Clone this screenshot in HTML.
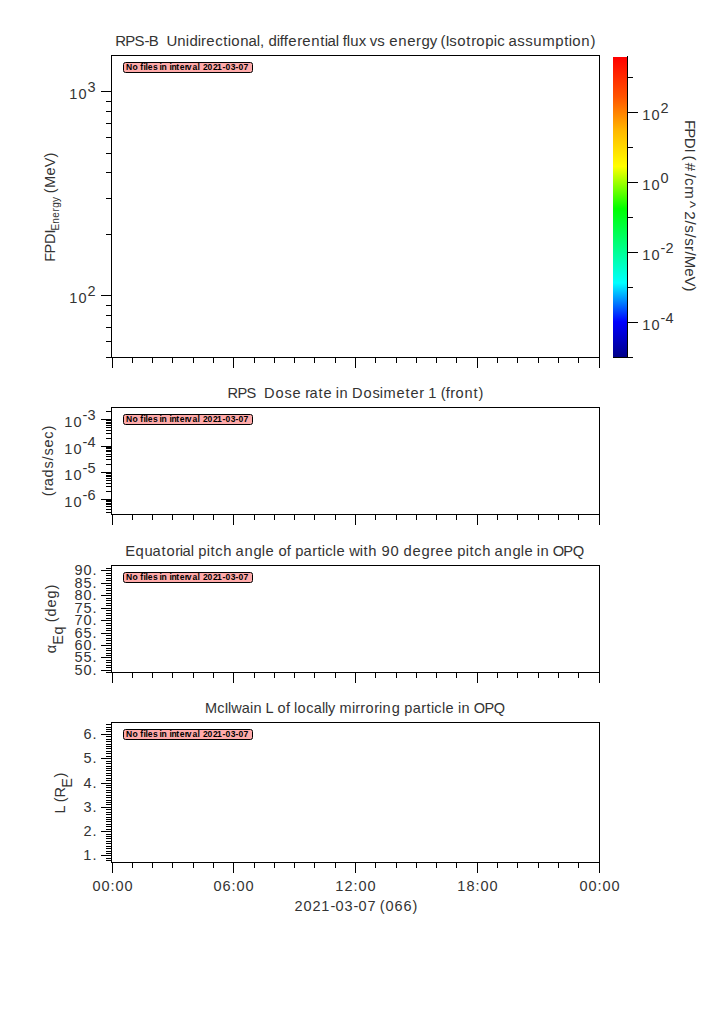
<!DOCTYPE html>
<html><head><meta charset="utf-8"><style>
html,body{margin:0;padding:0;background:#fff;width:725px;height:1019px;overflow:hidden}
svg{display:block}
text{font-family:"Liberation Sans",sans-serif;fill:#333;white-space:pre}
.nf text{fill:#000;font-weight:bold}
</style></head><body>
<svg width="725" height="1019" viewBox="0 0 725 1019" shape-rendering="crispEdges">
<rect x="0" y="0" width="725" height="1019" fill="#fff"/>
<rect x="111" y="55" width="489" height="1" fill="#000"/>
<rect x="111" y="357" width="489" height="1" fill="#000"/>
<rect x="111" y="55" width="1" height="303" fill="#000"/>
<rect x="599" y="55" width="1" height="303" fill="#000"/>
<rect x="112" y="358" width="1" height="10" fill="#000"/>
<rect x="132" y="358" width="1" height="5" fill="#000"/>
<rect x="152" y="358" width="1" height="5" fill="#000"/>
<rect x="172" y="358" width="1" height="5" fill="#000"/>
<rect x="193" y="358" width="1" height="5" fill="#000"/>
<rect x="213" y="358" width="1" height="5" fill="#000"/>
<rect x="233" y="358" width="1" height="10" fill="#000"/>
<rect x="254" y="358" width="1" height="5" fill="#000"/>
<rect x="274" y="358" width="1" height="5" fill="#000"/>
<rect x="294" y="358" width="1" height="5" fill="#000"/>
<rect x="314" y="358" width="1" height="5" fill="#000"/>
<rect x="335" y="358" width="1" height="5" fill="#000"/>
<rect x="355" y="358" width="1" height="10" fill="#000"/>
<rect x="375" y="358" width="1" height="5" fill="#000"/>
<rect x="396" y="358" width="1" height="5" fill="#000"/>
<rect x="416" y="358" width="1" height="5" fill="#000"/>
<rect x="436" y="358" width="1" height="5" fill="#000"/>
<rect x="456" y="358" width="1" height="5" fill="#000"/>
<rect x="477" y="358" width="1" height="10" fill="#000"/>
<rect x="497" y="358" width="1" height="5" fill="#000"/>
<rect x="517" y="358" width="1" height="5" fill="#000"/>
<rect x="538" y="358" width="1" height="5" fill="#000"/>
<rect x="558" y="358" width="1" height="5" fill="#000"/>
<rect x="578" y="358" width="1" height="5" fill="#000"/>
<rect x="599" y="358" width="1" height="10" fill="#000"/>
<rect x="111" y="407" width="489" height="1" fill="#000"/>
<rect x="111" y="514" width="489" height="1" fill="#000"/>
<rect x="111" y="407" width="1" height="108" fill="#000"/>
<rect x="599" y="407" width="1" height="108" fill="#000"/>
<rect x="112" y="515" width="1" height="10" fill="#000"/>
<rect x="132" y="515" width="1" height="5" fill="#000"/>
<rect x="152" y="515" width="1" height="5" fill="#000"/>
<rect x="172" y="515" width="1" height="5" fill="#000"/>
<rect x="193" y="515" width="1" height="5" fill="#000"/>
<rect x="213" y="515" width="1" height="5" fill="#000"/>
<rect x="233" y="515" width="1" height="10" fill="#000"/>
<rect x="254" y="515" width="1" height="5" fill="#000"/>
<rect x="274" y="515" width="1" height="5" fill="#000"/>
<rect x="294" y="515" width="1" height="5" fill="#000"/>
<rect x="314" y="515" width="1" height="5" fill="#000"/>
<rect x="335" y="515" width="1" height="5" fill="#000"/>
<rect x="355" y="515" width="1" height="10" fill="#000"/>
<rect x="375" y="515" width="1" height="5" fill="#000"/>
<rect x="396" y="515" width="1" height="5" fill="#000"/>
<rect x="416" y="515" width="1" height="5" fill="#000"/>
<rect x="436" y="515" width="1" height="5" fill="#000"/>
<rect x="456" y="515" width="1" height="5" fill="#000"/>
<rect x="477" y="515" width="1" height="10" fill="#000"/>
<rect x="497" y="515" width="1" height="5" fill="#000"/>
<rect x="517" y="515" width="1" height="5" fill="#000"/>
<rect x="538" y="515" width="1" height="5" fill="#000"/>
<rect x="558" y="515" width="1" height="5" fill="#000"/>
<rect x="578" y="515" width="1" height="5" fill="#000"/>
<rect x="599" y="515" width="1" height="10" fill="#000"/>
<rect x="111" y="565" width="489" height="1" fill="#000"/>
<rect x="111" y="672" width="489" height="1" fill="#000"/>
<rect x="111" y="565" width="1" height="108" fill="#000"/>
<rect x="599" y="565" width="1" height="108" fill="#000"/>
<rect x="112" y="673" width="1" height="10" fill="#000"/>
<rect x="132" y="673" width="1" height="5" fill="#000"/>
<rect x="152" y="673" width="1" height="5" fill="#000"/>
<rect x="172" y="673" width="1" height="5" fill="#000"/>
<rect x="193" y="673" width="1" height="5" fill="#000"/>
<rect x="213" y="673" width="1" height="5" fill="#000"/>
<rect x="233" y="673" width="1" height="10" fill="#000"/>
<rect x="254" y="673" width="1" height="5" fill="#000"/>
<rect x="274" y="673" width="1" height="5" fill="#000"/>
<rect x="294" y="673" width="1" height="5" fill="#000"/>
<rect x="314" y="673" width="1" height="5" fill="#000"/>
<rect x="335" y="673" width="1" height="5" fill="#000"/>
<rect x="355" y="673" width="1" height="10" fill="#000"/>
<rect x="375" y="673" width="1" height="5" fill="#000"/>
<rect x="396" y="673" width="1" height="5" fill="#000"/>
<rect x="416" y="673" width="1" height="5" fill="#000"/>
<rect x="436" y="673" width="1" height="5" fill="#000"/>
<rect x="456" y="673" width="1" height="5" fill="#000"/>
<rect x="477" y="673" width="1" height="10" fill="#000"/>
<rect x="497" y="673" width="1" height="5" fill="#000"/>
<rect x="517" y="673" width="1" height="5" fill="#000"/>
<rect x="538" y="673" width="1" height="5" fill="#000"/>
<rect x="558" y="673" width="1" height="5" fill="#000"/>
<rect x="578" y="673" width="1" height="5" fill="#000"/>
<rect x="599" y="673" width="1" height="10" fill="#000"/>
<rect x="111" y="722" width="489" height="1" fill="#000"/>
<rect x="111" y="862" width="489" height="1" fill="#000"/>
<rect x="111" y="722" width="1" height="141" fill="#000"/>
<rect x="599" y="722" width="1" height="141" fill="#000"/>
<rect x="112" y="863" width="1" height="10" fill="#000"/>
<rect x="132" y="863" width="1" height="5" fill="#000"/>
<rect x="152" y="863" width="1" height="5" fill="#000"/>
<rect x="172" y="863" width="1" height="5" fill="#000"/>
<rect x="193" y="863" width="1" height="5" fill="#000"/>
<rect x="213" y="863" width="1" height="5" fill="#000"/>
<rect x="233" y="863" width="1" height="10" fill="#000"/>
<rect x="254" y="863" width="1" height="5" fill="#000"/>
<rect x="274" y="863" width="1" height="5" fill="#000"/>
<rect x="294" y="863" width="1" height="5" fill="#000"/>
<rect x="314" y="863" width="1" height="5" fill="#000"/>
<rect x="335" y="863" width="1" height="5" fill="#000"/>
<rect x="355" y="863" width="1" height="10" fill="#000"/>
<rect x="375" y="863" width="1" height="5" fill="#000"/>
<rect x="396" y="863" width="1" height="5" fill="#000"/>
<rect x="416" y="863" width="1" height="5" fill="#000"/>
<rect x="436" y="863" width="1" height="5" fill="#000"/>
<rect x="456" y="863" width="1" height="5" fill="#000"/>
<rect x="477" y="863" width="1" height="10" fill="#000"/>
<rect x="497" y="863" width="1" height="5" fill="#000"/>
<rect x="517" y="863" width="1" height="5" fill="#000"/>
<rect x="538" y="863" width="1" height="5" fill="#000"/>
<rect x="558" y="863" width="1" height="5" fill="#000"/>
<rect x="578" y="863" width="1" height="5" fill="#000"/>
<rect x="599" y="863" width="1" height="10" fill="#000"/>
<rect x="101" y="91" width="10" height="1" fill="#000"/>
<rect x="101" y="295" width="10" height="1" fill="#000"/>
<rect x="106" y="101" width="5" height="1" fill="#000"/>
<rect x="106" y="111" width="5" height="1" fill="#000"/>
<rect x="106" y="123" width="5" height="1" fill="#000"/>
<rect x="106" y="137" width="5" height="1" fill="#000"/>
<rect x="106" y="153" width="5" height="1" fill="#000"/>
<rect x="106" y="172" width="5" height="1" fill="#000"/>
<rect x="106" y="198" width="5" height="1" fill="#000"/>
<rect x="106" y="234" width="5" height="1" fill="#000"/>
<rect x="106" y="305" width="5" height="1" fill="#000"/>
<rect x="106" y="315" width="5" height="1" fill="#000"/>
<rect x="106" y="327" width="5" height="1" fill="#000"/>
<rect x="106" y="341" width="5" height="1" fill="#000"/>
<rect x="106" y="357" width="5" height="1" fill="#000"/>
<rect x="101" y="419" width="10" height="1" fill="#000"/>
<rect x="101" y="446" width="10" height="1" fill="#000"/>
<rect x="101" y="472" width="10" height="1" fill="#000"/>
<rect x="101" y="499" width="10" height="1" fill="#000"/>
<rect x="106" y="411" width="5" height="1" fill="#000"/>
<rect x="106" y="438" width="5" height="1" fill="#000"/>
<rect x="106" y="433" width="5" height="1" fill="#000"/>
<rect x="106" y="430" width="5" height="1" fill="#000"/>
<rect x="106" y="427" width="5" height="1" fill="#000"/>
<rect x="106" y="425" width="5" height="1" fill="#000"/>
<rect x="106" y="423" width="5" height="1" fill="#000"/>
<rect x="106" y="422" width="5" height="1" fill="#000"/>
<rect x="106" y="420" width="5" height="1" fill="#000"/>
<rect x="106" y="464" width="5" height="1" fill="#000"/>
<rect x="106" y="459" width="5" height="1" fill="#000"/>
<rect x="106" y="456" width="5" height="1" fill="#000"/>
<rect x="106" y="454" width="5" height="1" fill="#000"/>
<rect x="106" y="451" width="5" height="1" fill="#000"/>
<rect x="106" y="450" width="5" height="1" fill="#000"/>
<rect x="106" y="448" width="5" height="1" fill="#000"/>
<rect x="106" y="447" width="5" height="1" fill="#000"/>
<rect x="106" y="491" width="5" height="1" fill="#000"/>
<rect x="106" y="486" width="5" height="1" fill="#000"/>
<rect x="106" y="483" width="5" height="1" fill="#000"/>
<rect x="106" y="480" width="5" height="1" fill="#000"/>
<rect x="106" y="478" width="5" height="1" fill="#000"/>
<rect x="106" y="476" width="5" height="1" fill="#000"/>
<rect x="106" y="475" width="5" height="1" fill="#000"/>
<rect x="106" y="473" width="5" height="1" fill="#000"/>
<rect x="106" y="512" width="5" height="1" fill="#000"/>
<rect x="106" y="509" width="5" height="1" fill="#000"/>
<rect x="106" y="506" width="5" height="1" fill="#000"/>
<rect x="106" y="504" width="5" height="1" fill="#000"/>
<rect x="106" y="503" width="5" height="1" fill="#000"/>
<rect x="106" y="501" width="5" height="1" fill="#000"/>
<rect x="106" y="500" width="5" height="1" fill="#000"/>
<rect x="106" y="672" width="5" height="1" fill="#000"/>
<rect x="101" y="670" width="10" height="1" fill="#000"/>
<rect x="106" y="667" width="5" height="1" fill="#000"/>
<rect x="106" y="665" width="5" height="1" fill="#000"/>
<rect x="106" y="662" width="5" height="1" fill="#000"/>
<rect x="106" y="660" width="5" height="1" fill="#000"/>
<rect x="101" y="657" width="10" height="1" fill="#000"/>
<rect x="106" y="655" width="5" height="1" fill="#000"/>
<rect x="106" y="653" width="5" height="1" fill="#000"/>
<rect x="106" y="650" width="5" height="1" fill="#000"/>
<rect x="106" y="648" width="5" height="1" fill="#000"/>
<rect x="101" y="645" width="10" height="1" fill="#000"/>
<rect x="106" y="643" width="5" height="1" fill="#000"/>
<rect x="106" y="640" width="5" height="1" fill="#000"/>
<rect x="106" y="638" width="5" height="1" fill="#000"/>
<rect x="106" y="635" width="5" height="1" fill="#000"/>
<rect x="101" y="633" width="10" height="1" fill="#000"/>
<rect x="106" y="630" width="5" height="1" fill="#000"/>
<rect x="106" y="628" width="5" height="1" fill="#000"/>
<rect x="106" y="625" width="5" height="1" fill="#000"/>
<rect x="106" y="623" width="5" height="1" fill="#000"/>
<rect x="101" y="620" width="10" height="1" fill="#000"/>
<rect x="106" y="618" width="5" height="1" fill="#000"/>
<rect x="106" y="615" width="5" height="1" fill="#000"/>
<rect x="106" y="613" width="5" height="1" fill="#000"/>
<rect x="106" y="610" width="5" height="1" fill="#000"/>
<rect x="101" y="608" width="10" height="1" fill="#000"/>
<rect x="106" y="605" width="5" height="1" fill="#000"/>
<rect x="106" y="603" width="5" height="1" fill="#000"/>
<rect x="106" y="600" width="5" height="1" fill="#000"/>
<rect x="106" y="598" width="5" height="1" fill="#000"/>
<rect x="101" y="595" width="10" height="1" fill="#000"/>
<rect x="106" y="593" width="5" height="1" fill="#000"/>
<rect x="106" y="590" width="5" height="1" fill="#000"/>
<rect x="106" y="588" width="5" height="1" fill="#000"/>
<rect x="106" y="585" width="5" height="1" fill="#000"/>
<rect x="101" y="583" width="10" height="1" fill="#000"/>
<rect x="106" y="580" width="5" height="1" fill="#000"/>
<rect x="106" y="578" width="5" height="1" fill="#000"/>
<rect x="106" y="575" width="5" height="1" fill="#000"/>
<rect x="106" y="573" width="5" height="1" fill="#000"/>
<rect x="101" y="570" width="10" height="1" fill="#000"/>
<rect x="106" y="568" width="5" height="1" fill="#000"/>
<rect x="106" y="860" width="5" height="1" fill="#000"/>
<rect x="106" y="858" width="5" height="1" fill="#000"/>
<rect x="101" y="855" width="10" height="1" fill="#000"/>
<rect x="106" y="853" width="5" height="1" fill="#000"/>
<rect x="106" y="851" width="5" height="1" fill="#000"/>
<rect x="106" y="848" width="5" height="1" fill="#000"/>
<rect x="106" y="846" width="5" height="1" fill="#000"/>
<rect x="106" y="843" width="5" height="1" fill="#000"/>
<rect x="106" y="841" width="5" height="1" fill="#000"/>
<rect x="106" y="838" width="5" height="1" fill="#000"/>
<rect x="106" y="836" width="5" height="1" fill="#000"/>
<rect x="106" y="834" width="5" height="1" fill="#000"/>
<rect x="101" y="831" width="10" height="1" fill="#000"/>
<rect x="106" y="829" width="5" height="1" fill="#000"/>
<rect x="106" y="826" width="5" height="1" fill="#000"/>
<rect x="106" y="824" width="5" height="1" fill="#000"/>
<rect x="106" y="821" width="5" height="1" fill="#000"/>
<rect x="106" y="819" width="5" height="1" fill="#000"/>
<rect x="106" y="817" width="5" height="1" fill="#000"/>
<rect x="106" y="814" width="5" height="1" fill="#000"/>
<rect x="106" y="812" width="5" height="1" fill="#000"/>
<rect x="106" y="809" width="5" height="1" fill="#000"/>
<rect x="101" y="807" width="10" height="1" fill="#000"/>
<rect x="106" y="804" width="5" height="1" fill="#000"/>
<rect x="106" y="802" width="5" height="1" fill="#000"/>
<rect x="106" y="800" width="5" height="1" fill="#000"/>
<rect x="106" y="797" width="5" height="1" fill="#000"/>
<rect x="106" y="795" width="5" height="1" fill="#000"/>
<rect x="106" y="792" width="5" height="1" fill="#000"/>
<rect x="106" y="790" width="5" height="1" fill="#000"/>
<rect x="106" y="787" width="5" height="1" fill="#000"/>
<rect x="106" y="785" width="5" height="1" fill="#000"/>
<rect x="101" y="783" width="10" height="1" fill="#000"/>
<rect x="106" y="780" width="5" height="1" fill="#000"/>
<rect x="106" y="778" width="5" height="1" fill="#000"/>
<rect x="106" y="775" width="5" height="1" fill="#000"/>
<rect x="106" y="773" width="5" height="1" fill="#000"/>
<rect x="106" y="770" width="5" height="1" fill="#000"/>
<rect x="106" y="768" width="5" height="1" fill="#000"/>
<rect x="106" y="766" width="5" height="1" fill="#000"/>
<rect x="106" y="763" width="5" height="1" fill="#000"/>
<rect x="106" y="761" width="5" height="1" fill="#000"/>
<rect x="101" y="758" width="10" height="1" fill="#000"/>
<rect x="106" y="756" width="5" height="1" fill="#000"/>
<rect x="106" y="753" width="5" height="1" fill="#000"/>
<rect x="106" y="751" width="5" height="1" fill="#000"/>
<rect x="106" y="748" width="5" height="1" fill="#000"/>
<rect x="106" y="746" width="5" height="1" fill="#000"/>
<rect x="106" y="744" width="5" height="1" fill="#000"/>
<rect x="106" y="741" width="5" height="1" fill="#000"/>
<rect x="106" y="739" width="5" height="1" fill="#000"/>
<rect x="106" y="736" width="5" height="1" fill="#000"/>
<rect x="101" y="734" width="10" height="1" fill="#000"/>
<rect x="106" y="731" width="5" height="1" fill="#000"/>
<rect x="106" y="729" width="5" height="1" fill="#000"/>
<rect x="106" y="727" width="5" height="1" fill="#000"/>
<rect x="106" y="724" width="5" height="1" fill="#000"/>
<defs><linearGradient id="cw" x1="0" y1="1" x2="0" y2="0"><stop offset="0.0000" stop-color="rgb(0,0,137)"/><stop offset="0.1176" stop-color="rgb(0,0,255)"/><stop offset="0.2471" stop-color="rgb(0,255,255)"/><stop offset="0.4941" stop-color="rgb(0,255,0)"/><stop offset="0.6353" stop-color="rgb(255,255,0)"/><stop offset="0.7529" stop-color="rgb(255,185,0)"/><stop offset="0.8667" stop-color="rgb(255,84,0)"/><stop offset="1.0000" stop-color="rgb(255,0,0)"/></linearGradient></defs>
<rect x="613" y="57" width="14" height="300" fill="url(#cw)"/>
<rect x="627" y="56" width="1" height="302" fill="#000"/>
<rect x="613" y="357" width="20" height="1" fill="#000"/>
<rect x="628" y="112" width="10" height="1" fill="#000"/>
<rect x="628" y="182" width="10" height="1" fill="#000"/>
<rect x="628" y="252" width="10" height="1" fill="#000"/>
<rect x="628" y="322" width="10" height="1" fill="#000"/>
<rect x="628" y="77" width="5" height="1" fill="#000"/>
<rect x="628" y="147" width="5" height="1" fill="#000"/>
<rect x="628" y="217" width="5" height="1" fill="#000"/>
<rect x="628" y="287" width="5" height="1" fill="#000"/>
<rect x="628" y="357" width="5" height="1" fill="#000"/>
<g transform="scale(1.0329,1)"><text x="111.66 121.3 130.23 139.91 144.05 153.86 157.73 161.28 171.68 179.92 183.47 191.54 194.72 199.78 208.29 216.25 220.58 223.97 232.67 240.61 248.65 251.65 255.52 259.96 268.02 270.9 274.77 279.17 287.67 292.73 301.41 310.16 314.5 317.1 325.14 328.13 331.89 335.79 339.2 347.34 354.27 357.99 365.31 372.66 376.96 385.64 394.38 402.88 408.09 416.08 423.01 426.55 431.24 435.02 442.78 451.52 456.13 461.17 469.72 478.12 481.31 488.84 492.33 500.85 508.6 516.37 524.99 537.49 546.4 550.73 554.12 562.81 571.64" y="46" font-size="14.5">RPS-B  Unidirectional, differential flux vs energy (Isotropic assumption)</text></g>
<g transform="scale(1.0085,1)"><text x="225.54 235.41 244.55 253.81 257.77 261.74 273.11 282.01 289.98 298.43 302.62 307.02 315.73 320.72 329.17 333.04 336.56 345.03 349 360.37 369.27 376.67 380.17 393.11 401.99 406.99 415.66 420.39 424.62 433.28 436.93 442.1 446.4 451.59 460.5 469.42 474.45" y="398" font-size="14.5">RPS  Dose rate in Dosimeter 1 (front)</text></g>
<g transform="scale(1.0185,1)"><text x="123.02 133.09 141.79 149.82 158.46 163.38 171.99 176.6 179.27 187.39 190.43 194.63 203.11 206.58 211.29 219.31 227.74 231.31 239.95 248.96 257.1 260.6 268.98 273.34 281.63 285.67 289.87 298.08 306.51 311.63 316.02 319.29 326.82 330.31 338.69 342.83 353.33 356.8 361.68 370.11 374.48 383.31 391.71 396.24 404.93 413.91 422.36 427.51 436.35 444.73 448.93 457.41 460.88 465.59 473.61 482.04 485.61 494.25 503.26 511.41 514.9 523.28 527.12 530.58 538.99 542.74 553.14 562.37" y="556" font-size="14.5">Equatorial pitch angle of particle with 90 degree pitch angle in OPQ</text></g>
<g transform=""><text x="204.96 217.26 224.48 227.88 231.26 241.66 249.89 253.45 261.98 265.62 272.98 277.47 285.88 289.98 293.88 297.47 306.26 313.66 321.88 324.88 327.88 334.98 339.45 351.89 355.22 360.22 365.47 374.22 378.89 382.45 391.63 399.98 404.3 412.66 421.22 426.43 430.89 434.26 441.88 445.48 453.98 457.89 461.45 469.98 473.87 484.45 493.87" y="713" font-size="14.5">McIlwain L of locally mirroring particle in OPQ</text></g>
<g transform=""><text x="69.27 78.47" y="99" font-size="14.5">10</text><text x="87.52" y="92" font-size="14.5">3</text></g>
<g transform=""><text x="69.27 78.47" y="303" font-size="14.5">10</text><text x="87.47" y="296" font-size="14.5">2</text></g>
<g transform=""><text x="64.27 73.47" y="427" font-size="14.5">10</text><text x="82.59 87.52" y="420" font-size="14.5">-3</text></g>
<g transform=""><text x="64.27 73.47" y="454" font-size="14.5">10</text><text x="82.59 87.52" y="447" font-size="14.5">-4</text></g>
<g transform=""><text x="64.27 73.47" y="480" font-size="14.5">10</text><text x="82.59 87.48" y="473" font-size="14.5">-5</text></g>
<g transform=""><text x="64.27 73.47" y="507" font-size="14.5">10</text><text x="82.59 87.42" y="500" font-size="14.5">-6</text></g>
<g transform=""><text x="74.48 83.47 92.48" y="675" font-size="14.5">50.</text></g>
<g transform=""><text x="74.48 83.48 92.48" y="662" font-size="14.5">55.</text></g>
<g transform=""><text x="74.42 83.47 92.48" y="650" font-size="14.5">60.</text></g>
<g transform="scale(1.0042,1)"><text x="74.09 83.12 92.09" y="638" font-size="14.5">65.</text></g>
<g transform="scale(1.0073,1)"><text x="73.89 82.83 91.8" y="625" font-size="14.5">70.</text></g>
<g transform="scale(1.0116,1)"><text x="73.56 82.48 91.4" y="613" font-size="14.5">75.</text></g>
<g transform=""><text x="74.47 83.47 92.48" y="600" font-size="14.5">80.</text></g>
<g transform=""><text x="74.47 83.48 92.48" y="588" font-size="14.5">85.</text></g>
<g transform=""><text x="74.47 83.47 92.48" y="575" font-size="14.5">90.</text></g>
<g transform=""><text x="83.27 92.48" y="860" font-size="14.5">1.</text></g>
<g transform="scale(1.0039,1)"><text x="83.13 92.12" y="836" font-size="14.5">2.</text></g>
<g transform=""><text x="83.52 92.48" y="812" font-size="14.5">3.</text></g>
<g transform=""><text x="83.52 92.48" y="788" font-size="14.5">4.</text></g>
<g transform=""><text x="83.48 92.48" y="763" font-size="14.5">5.</text></g>
<g transform=""><text x="83.42 92.48" y="739" font-size="14.5">6.</text></g>
<g transform=""><text x="642.27 651.47" y="120" font-size="14.5">10</text><text x="660.47" y="113" font-size="14.5">2</text></g>
<g transform=""><text x="642.27 651.47" y="190" font-size="14.5">10</text><text x="660.47" y="183" font-size="14.5">0</text></g>
<g transform=""><text x="642.27 651.47" y="260" font-size="14.5">10</text><text x="660.59 665.47" y="253" font-size="14.5">-2</text></g>
<g transform=""><text x="642.27 651.47" y="330" font-size="14.5">10</text><text x="660.59 665.52" y="323" font-size="14.5">-4</text></g>
<g transform=""><text x="92.47 101.47 110.48 115.47 124.47" y="891" font-size="14.5">00:00</text></g>
<g transform="scale(1.0043,1)"><text x="212.53 221.45 230.48 235.43 244.39" y="891" font-size="14.5">06:00</text></g>
<g transform=""><text x="335.27 344.47 353.48 358.47 367.47" y="891" font-size="14.5">12:00</text></g>
<g transform=""><text x="457.27 466.47 475.48 480.47 489.47" y="891" font-size="14.5">18:00</text></g>
<g transform=""><text x="579.47 588.47 597.48 602.47 611.47" y="891" font-size="14.5">00:00</text></g>
<g transform="scale(1.0023,1)"><text x="293.79 302.77 311.75 320.52 329.83 334.69 343.72 352.77 357.64 366.61 375.12 378.8 384.58 393.51 402.49 411.55" y="911" font-size="14.5">2021-03-07 (066)</text></g>
<g transform="translate(55,261) rotate(-90)"><text x="-0.73 7.45 17.02 27.48" y="0" font-size="14.5">FPDI</text><text x="30.47 37.21 43.23 49.58 53.33 58.99" y="4" font-size="10">Energy</text><text x="63.98 67.67 72.96 85.48 93.66 103.5" y="0" font-size="14.5"> (MeV)</text></g>
<g transform="translate(53,496) rotate(-90)"><text x="-0.33 5.22 9.66 18.63 27.44 35.48 40.44 48.48 57.26 65.5" y="0" font-size="14.5">(rads/sec)</text></g>
<g transform="translate(56,654) rotate(-90)"><text x="0.71" y="0" font-size="14.5">α</text><text x="9.38 19.62" y="7" font-size="14.5">Eq</text><text x="27.98 31.67 37.63 46.48 55.63 64.5" y="0" font-size="14.5"> (deg)</text></g>
<g transform="translate(65,813) rotate(-90)"><text x="-0.38 6.98 10.67 15.51" y="0" font-size="14.5">L (R</text><text x="25.38" y="7" font-size="14.5">E</text><text x="35.5" y="0" font-size="14.5">)</text></g>
<g transform="translate(685,121) rotate(90) scale(1.0429,1)"><text x="-0.9 6.94 16.09 26.27 29.63 33.13 40.08 50.24 54.75 62.51 76.66 86.58 95.31 99.99 107.77 112.46 119.95 125.03 129.16 141.25 149.06 158.61" y="0" font-size="14.5">FPDI (#/cm^2/s/sr/MeV)</text></g>
<rect x="123.5" y="62.5" width="129" height="10" rx="2" ry="2" fill="#ffaaaa" stroke="#000" stroke-width="1" shape-rendering="geometricPrecision"/>
<g transform="scale(0.9500,1)" class="nf"><text x="132.54 139.61 144.54 147.63 151.11 153.21 155.4 160.95 164.54 167.95 170.12 175.07 178.47 180.65 185.55 189.09 194.6 196.7 202.58 207.95 209.8 213.82 218.54 224.34 228.43 234.29 237.49 242.79 247.97 251.18 256.44" y="70" font-size="9">No files in interval 2021-03-07</text></g>
<rect x="123.5" y="414.5" width="129" height="10" rx="2" ry="2" fill="#ffaaaa" stroke="#000" stroke-width="1" shape-rendering="geometricPrecision"/>
<g transform="scale(0.9500,1)" class="nf"><text x="132.54 139.61 144.54 147.63 151.11 153.21 155.4 160.95 164.54 167.95 170.12 175.07 178.47 180.65 185.55 189.09 194.6 196.7 202.58 207.95 209.8 213.82 218.54 224.34 228.43 234.29 237.49 242.79 247.97 251.18 256.44" y="422" font-size="9">No files in interval 2021-03-07</text></g>
<rect x="123.5" y="572.5" width="129" height="10" rx="2" ry="2" fill="#ffaaaa" stroke="#000" stroke-width="1" shape-rendering="geometricPrecision"/>
<g transform="scale(0.9500,1)" class="nf"><text x="132.54 139.61 144.54 147.63 151.11 153.21 155.4 160.95 164.54 167.95 170.12 175.07 178.47 180.65 185.55 189.09 194.6 196.7 202.58 207.95 209.8 213.82 218.54 224.34 228.43 234.29 237.49 242.79 247.97 251.18 256.44" y="580" font-size="9">No files in interval 2021-03-07</text></g>
<rect x="123.5" y="729.5" width="129" height="10" rx="2" ry="2" fill="#ffaaaa" stroke="#000" stroke-width="1" shape-rendering="geometricPrecision"/>
<g transform="scale(0.9500,1)" class="nf"><text x="132.54 139.61 144.54 147.63 151.11 153.21 155.4 160.95 164.54 167.95 170.12 175.07 178.47 180.65 185.55 189.09 194.6 196.7 202.58 207.95 209.8 213.82 218.54 224.34 228.43 234.29 237.49 242.79 247.97 251.18 256.44" y="737" font-size="9">No files in interval 2021-03-07</text></g>
</svg></body></html>
